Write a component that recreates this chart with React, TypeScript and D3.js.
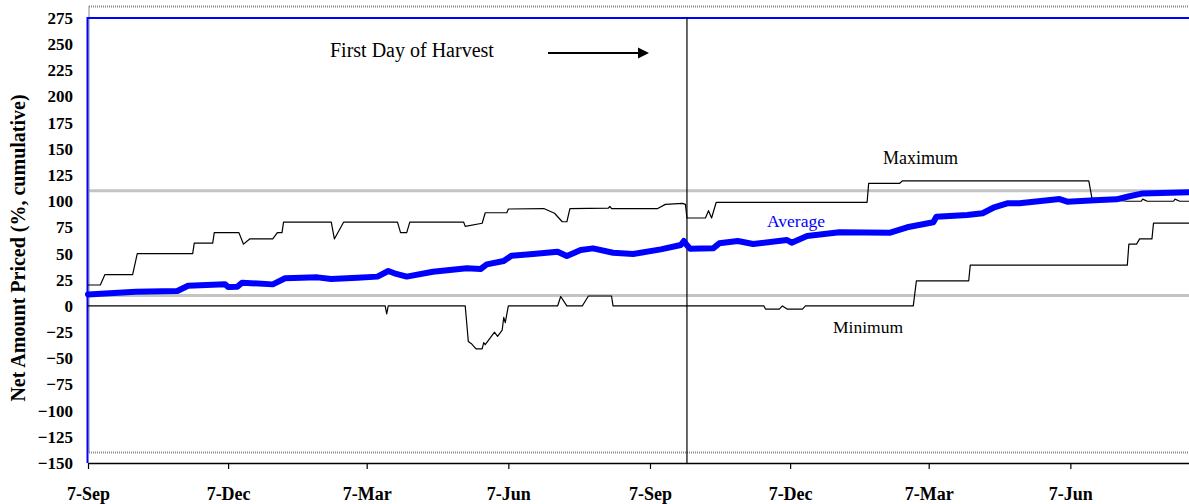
import { useRef, useEffect } from "react";
import { select, scaleTime, scaleLinear, line, timeDay, timeMonth, axisBottom, axisLeft } from "d3";

// marketing year runs from 7-Sep over two seasons
const startDate = new Date(2001, 8, 7);
const endDate = new Date(2003, 8, 7);

const xTickLabels = ["7-Sep", "7-Dec", "7-Mar", "7-Jun", "7-Sep", "7-Dec", "7-Mar", "7-Jun"];
const yTickValues = [275, 250, 225, 200, 175, 150, 125, 100, 75, 50, 25, 0, -25, -50, -75, -100, -125, -150];

// reference lines (%)
const bandValues = [110, 10];
const frameValues = [286, -140];
const harvestDay = 389;

// days after 7-Sep / value
const maxDays = [0, 8, 11, 29, 32, 68, 69, 81, 82, 98, 101, 105, 120, 123, 126, 127, 158, 160, 166, 201, 203, 207, 209, 244, 245, 256, 258, 272, 273, 296, 303, 308, 311, 313, 338, 339, 340, 370, 375, 386, 388, 389, 401, 403, 405, 408, 506, 507, 527, 529, 650, 652, 675, 684, 685, 688, 705, 706, 709, 715];
const maxValues = [20, 20, 30, 30, 50, 50, 60, 60, 70, 70, 59, 64, 64, 70, 70, 80, 80, 64, 80, 80, 70, 70, 80, 80, 76, 79, 89, 89, 92.6, 93, 88.5, 80.4, 80.4, 93, 93.5, 95, 93, 93, 97, 98, 97, 84, 84, 91, 84, 99, 99, 117, 117, 119.5, 119.5, 103, 100, 100, 102, 100, 100, 102, 100, 100];

const minDays = [0, 193, 194, 195, 245, 247, 249, 252, 256, 257, 258, 264, 266, 269, 270, 271, 273, 305, 307, 311, 321, 325, 340, 341, 439, 440, 449, 451, 454, 464, 466, 536, 538, 572, 573, 675, 676, 681, 683, 691, 692, 715];
const minValues = [0, 0, -7.5, 0, 0, -34, -36, -41, -41, -35, -37, -25, -29, -23, -11, -16, 0, 0, 9, 0, 0, 9.5, 9.5, 0, 0, -3, -3, 0, -3, -3, 0, 0, 24, 24, 39, 39, 59, 59, 64, 64, 79, 79];

const avgDays = [0, 31, 58, 65, 89, 91, 97, 100, 120, 128, 149, 158, 175, 188, 195, 199, 207, 224, 246, 255, 259, 270, 275, 289, 305, 311, 320, 328, 341, 354, 372, 385, 387, 389, 391, 406, 410, 422, 432, 454, 457, 467, 488, 521, 532, 549, 551, 571, 581, 588, 597, 605, 631, 636, 657, 668, 675, 685, 715];
const avgValues = [11, 13.6, 14.3, 19.3, 20.6, 18, 18.4, 22.2, 20.6, 26.4, 27.3, 25.7, 27, 28, 33.4, 31.2, 28, 32.7, 35.9, 35.3, 39.7, 42.9, 48, 49.6, 51.8, 47.7, 53.4, 55, 50.8, 49.6, 54, 58.2, 62, 58, 54.7, 55, 59.8, 62, 59.2, 63, 60.4, 66.8, 70.3, 70, 75.1, 79.9, 85.2, 86.8, 88.5, 93.8, 98, 98, 102.1, 99.6, 101.2, 101.8, 104.3, 107.5, 108.5];

const W = 1189;
const H = 504;
const FONT = "'Liberation Serif', 'Times New Roman', serif";

function PricingChart() {
  const ref = useRef<SVGSVGElement | null>(null);

  //draws chart
  useEffect(() => {
    const svg = select(ref.current!);
    svg.selectAll("*").remove();

    //scales
    const xScale = scaleTime().domain([startDate, endDate]).range([88, 1212]);
    const yScale = scaleLinear().domain([-150, 275]).range([463, 18]);
    const day = (d: number) => timeDay.offset(startDate, d);
    const x0 = xScale(startDate);
    const x1 = xScale(endDate);

    //grey bands
    svg
      .selectAll(".band")
      .data(bandValues)
      .join("line")
      .attr("x1", x0 + 1)
      .attr("x2", x1)
      .attr("y1", (d) => yScale(d))
      .attr("y2", (d) => yScale(d))
      .attr("stroke", "#c4c4c4")
      .attr("stroke-width", 3);

    //dotted frame
    const frame = svg.append("g").attr("stroke", "#8a8a8a").attr("stroke-width", 2).attr("stroke-dasharray", "1 1").attr("fill", "none");
    frameValues.forEach((v) => {
      frame.append("line").attr("x1", x0 + 1).attr("x2", x1).attr("y1", yScale(v)).attr("y2", yScale(v));
    });
    frame
      .append("line")
      .attr("x1", x0 + 1)
      .attr("x2", x0 + 1)
      .attr("y1", yScale(frameValues[0]))
      .attr("y2", yScale(frameValues[1]));

    //blue border
    svg
      .append("path")
      .attr("d", `M${x1},${yScale(275)}H${x0 - 0.5}V${yScale(-150)}`)
      .attr("fill", "none")
      .attr("stroke", "#0000ff")
      .attr("stroke-width", 2);

    //axes
    const xAxis: any = axisBottom(xScale)
      .tickValues(xTickLabels.map((_, i) => timeMonth.offset(startDate, i * 3)))
      .tickFormat((_, i) => xTickLabels[i])
      .tickSize(6)
      .tickSizeOuter(0)
      .tickPadding(18);
    const gx = svg.append("g").attr("transform", `translate(0,${yScale(-150)})`).call(xAxis);
    gx.select(".domain").attr("stroke", "#000").attr("stroke-width", 1.5);
    gx.selectAll("line").attr("stroke", "#000").attr("stroke-width", 1.2);
    gx.selectAll("text").attr("font-family", FONT).attr("font-size", 18).attr("font-weight", "bold").attr("fill", "#000");

    const yAxis: any = axisLeft(yScale).tickValues(yTickValues).tickSize(0).tickPadding(15);
    const gy = svg.append("g").attr("transform", `translate(${x0},0)`).call(yAxis);
    gy.select(".domain").remove();
    gy.selectAll("text").attr("font-family", FONT).attr("font-size", 17).attr("font-weight", "bold").attr("fill", "#000");

    //harvest marker
    svg
      .append("line")
      .attr("x1", xScale(day(harvestDay)))
      .attr("x2", xScale(day(harvestDay)))
      .attr("y1", yScale(275))
      .attr("y2", yScale(-150))
      .attr("stroke", "#000")
      .attr("stroke-width", 1.2);

    //series
    const drawSeries = (days: number[], values: number[], color: string, width: number) => {
      const gen: any = line<number>()
        .x((d) => xScale(day(d)))
        .y((d, i) => yScale(values[i]));
      svg
        .append("path")
        .attr("d", gen(days))
        .attr("fill", "none")
        .attr("stroke", color)
        .attr("stroke-width", width)
        .attr("stroke-linejoin", "round")
        .attr("stroke-linecap", "round");
    };

    drawSeries(maxDays, maxValues, "#000", 1.2);
    drawSeries(minDays, minValues, "#000", 1.2);
    drawSeries(avgDays, avgValues, "#0000ff", 6);

    //labels
    const label = (tx: number, ty: number, text: string, size: number, color: string) =>
      svg
        .append("text")
        .attr("x", tx)
        .attr("y", ty)
        .attr("font-family", FONT)
        .attr("font-size", size)
        .attr("fill", color)
        .text(text);

    label(330, 57, "First Day of Harvest", 20, "#000");
    label(883, 164, "Maximum", 18, "#000");
    label(767, 227, "Average", 17.5, "#0000ff");
    label(833, 333, "Minimum", 17.5, "#000");

    //arrow
    const tipX = xScale(day(365)) - 1;
    svg.append("line").attr("x1", 548).attr("x2", tipX - 8).attr("y1", 53).attr("y2", 53).attr("stroke", "#000").attr("stroke-width", 2);
    svg
      .append("path")
      .attr("d", `M${tipX},53L${tipX - 11},47.5L${tipX - 11},58.5Z`)
      .attr("fill", "#000");

    //y title
    svg
      .append("text")
      .attr("transform", `translate(25,248) rotate(-90)`)
      .attr("text-anchor", "middle")
      .attr("font-family", FONT)
      .attr("font-size", 20)
      .attr("font-weight", "bold")
      .attr("fill", "#000")
      .text("Net Amount Priced (%, cumulative)");
  }, []);

  return (
    <svg
      ref={ref}
      width={W}
      height={H}
      style={{ position: "absolute", left: 0, top: 0, background: "#fff", display: "block" }}
    ></svg>
  );
}

export default function App() {
  return <PricingChart />;
}
